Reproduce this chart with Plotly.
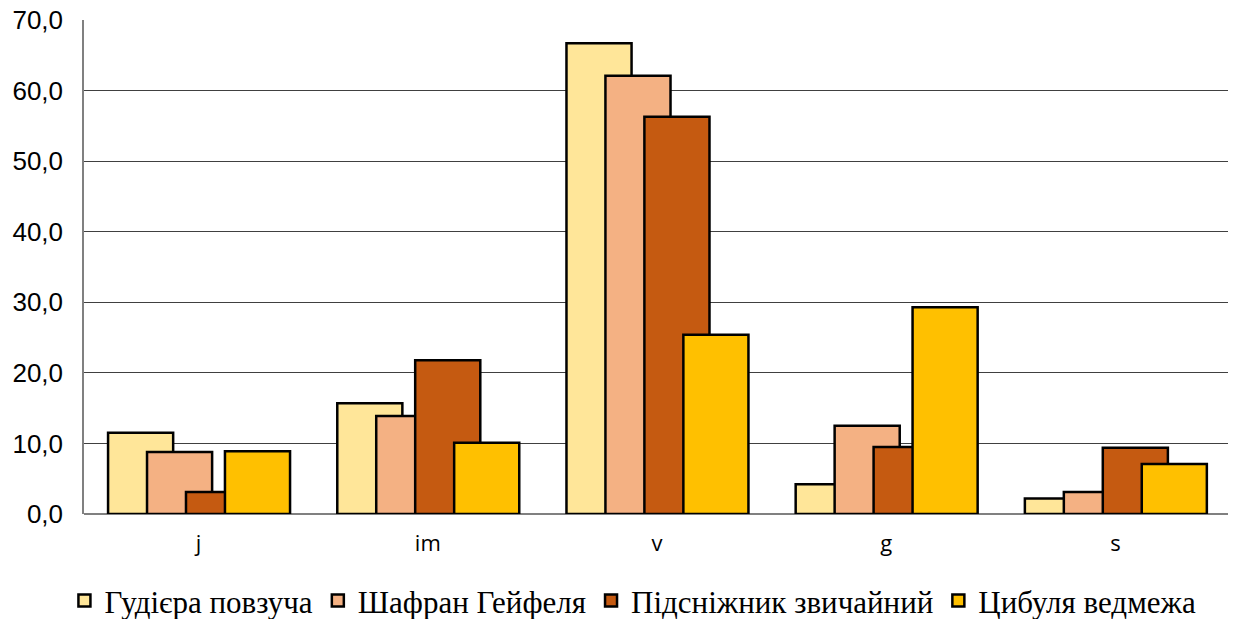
import plotly.graph_objects as go

categories = ["j", "im", "v", "g", "s"]
series_names = ["Гудієра повзуча", "Шафран Гейфеля", "Підсніжник звичайний", "Цибуля ведмежа"]
gudiera = [11.5, 15.7, 66.7, 4.2, 2.2]
shafran = [8.8, 13.9, 62.1, 12.5, 3.1]
pidsnizhnyk = [3.1, 21.8, 56.3, 9.5, 9.4]
tsybulia = [8.9, 10.1, 25.4, 29.3, 7.1]
y_ticks = [0, 10, 20, 30, 40, 50, 60, 70]
y_tick_labels = ["0,0", "10,0", "20,0", "30,0", "40,0", "50,0", "60,0", "70,0"]

colors = ["#FFE699", "#F4B183", "#C55A11", "#FFC000"]
values = [gudiera, shafran, pidsnizhnyk, tsybulia]

bar_w = 0.284
step = 0.170
start = -0.395

fig = go.Figure()
for i, (name, vals, col) in enumerate(zip(series_names, values, colors)):
    fig.add_trace(go.Bar(
        x=categories, y=vals, name=name,
        offset=start + i * step, width=bar_w,
        marker=dict(color=col, line=dict(color="#000000", width=2.5)),
    ))

fig.update_layout(
    barmode="overlay",
    width=1228, height=611,
    margin=dict(l=76, r=6, t=12, b=105, autoexpand=False),
    plot_bgcolor="white", paper_bgcolor="white",
    font=dict(family="Liberation Sans", size=22, color="#000000"),
    showlegend=True,
    legend=dict(
        orientation="h", x=0.479, xanchor="center", y=-0.176, yanchor="middle",
        font=dict(family="Liberation Serif", size=31, color="#000000"),
        itemwidth=30, traceorder="normal",
    ),
)
fig.update_xaxes(
    showgrid=False, showline=False, ticks="", automargin=False,
    tickfont=dict(family="Open Sans", size=22), type="category",
    ticklabelstandoff=14,
)
fig.update_yaxes(
    range=[0, 70], tickvals=y_ticks, ticktext=y_tick_labels, automargin=False,
    showgrid=True, gridcolor="#404040", gridwidth=1,
    showline=True, linecolor="#808080", linewidth=1.5,
    zeroline=True, zerolinecolor="#808080", zerolinewidth=1.5,
    ticks="", tickfont=dict(size=26), ticklabelstandoff=14,
    ticklabeloverflow="allow",
)

fig.write_html("out.html")
